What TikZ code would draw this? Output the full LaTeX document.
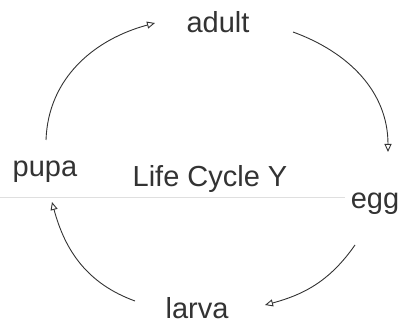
\documentclass[tikz,border=0pt]{standalone}
\usepackage{fontspec}
\setmainfont{Liberation Sans}
\usetikzlibrary{arrows.meta}
\definecolor{ink}{HTML}{333333}
\begin{document}
\begin{tikzpicture}[x=1pt,y=1pt,
  lbl/.style={font=\fontsize{29}{32}\selectfont, text=ink, inner sep=0pt, anchor=base},
  cyc/.style={draw=ink, line width=0.9pt, -{Triangle[open,length=8pt,width=7pt]}}]
\useasboundingbox (0,0) rectangle (404,327);
\draw[gray!25, line width=1pt] (0,130) -- (345,130);
\node[lbl] (adult) at (218,294) {adult};
\node[lbl] (pupa) at (45,150) {pupa};
\node[lbl] (title) at (210,140) {Life Cycle Y};
\node[lbl] (egg) at (375,119) {egg};
\node[lbl] (larva) at (197,9) {larva};
\coordinate (a1s) at (46,187);
\coordinate (a1e) at (155,304);
\coordinate (a2s) at (293,295);
\coordinate (a2e) at (388,175);
\coordinate (a3s) at (355,82);
\coordinate (a3e) at (265,22);
\coordinate (a4s) at (135,26);
\coordinate (a4e) at (52,125);
\draw[cyc] (a1s) to[out=88,in=195] (a1e);
\draw[cyc] (a2s) to[out=-20,in=90] (a2e);
\draw[cyc] (a3s) to[out=-125,in=15] (a3e);
\draw[cyc] (a4s) to[out=160,in=-75] (a4e);
\end{tikzpicture}
\end{document}
